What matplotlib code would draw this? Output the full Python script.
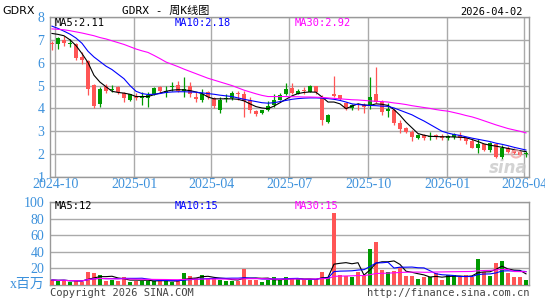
import matplotlib
matplotlib.use('Agg')
import matplotlib.pyplot as plt
from matplotlib.patches import Ellipse
import numpy as np
import pandas as pd

# weekly candles, GDRX (80 weeks ending 2026-04-03)
opens = [6.88, 6.81, 6.99, 6.83, 6.84, 6.23, 6.06, 5.04, 4.20, 4.96,
         4.81, 4.93, 4.67, 4.38, 4.56, 4.46, 4.46, 4.61, 4.93, 4.67,
         4.93, 5.03, 4.78, 4.96, 4.49, 4.38, 4.71, 4.46, 3.91, 4.42,
         4.46, 4.67, 4.64, 4.35, 3.88, 3.80, 3.91, 4.13, 4.38, 4.61,
         4.88, 4.64, 4.78, 4.74, 4.97, 4.52, 3.41, 4.61, 4.57, 4.23,
         4.03, 4.17, 4.13, 4.17, 4.61, 4.28, 3.88, 3.94, 3.36, 3.14,
         2.97, 2.72, 2.83, 2.75, 2.83, 2.78, 2.72, 2.75, 2.83, 2.72,
         2.58, 2.29, 2.43, 2.20, 2.46, 1.86, 2.25, 2.17, 2.10, 2.00]
closes = [6.81, 7.07, 6.88, 6.88, 6.20, 6.13, 4.86, 4.09, 4.85, 4.78,
          4.86, 4.71, 4.45, 4.61, 4.45, 4.49, 4.57, 4.88, 4.75, 4.78,
          5.00, 4.78, 4.86, 4.61, 4.41, 4.61, 4.52, 4.09, 4.38, 4.46,
          4.67, 4.64, 4.32, 3.94, 3.77, 3.91, 4.09, 4.35, 4.57, 4.86,
          4.67, 4.75, 4.75, 4.96, 4.71, 3.51, 3.72, 4.55, 4.42, 3.99,
          4.13, 4.13, 4.06, 4.49, 4.28, 3.84, 3.99, 3.36, 3.12, 2.97,
          2.75, 2.83, 2.72, 2.80, 2.75, 2.72, 2.78, 2.87, 2.72, 2.58,
          2.29, 2.46, 2.20, 2.49, 1.88, 2.28, 2.10, 2.06, 1.96, 2.07]
highs = [6.96, 7.12, 7.15, 7.03, 6.86, 6.45, 6.12, 5.07, 4.93, 5.07,
         5.03, 5.00, 4.71, 4.64, 4.67, 4.71, 4.71, 4.93, 5.00, 4.96,
         5.14, 5.22, 5.36, 5.14, 4.71, 4.86, 4.78, 4.52, 4.49, 4.64,
         4.78, 4.78, 4.78, 4.49, 3.94, 3.94, 4.32, 4.64, 4.67, 5.10,
         5.10, 4.86, 4.93, 5.04, 5.00, 4.57, 3.77, 5.41, 4.57, 4.28,
         4.20, 4.23, 4.23, 5.36, 5.80, 4.35, 4.23, 3.99, 3.48, 3.19,
         3.04, 2.90, 2.90, 2.97, 2.90, 2.90, 2.83, 2.93, 2.97, 2.75,
         2.68, 2.68, 2.46, 2.54, 2.49, 2.39, 2.35, 2.28, 2.17, 2.13]
lows = [6.55, 6.62, 6.74, 6.70, 6.12, 5.94, 4.57, 4.03, 4.06, 4.68,
        4.74, 4.64, 4.28, 4.32, 4.35, 4.13, 4.06, 4.57, 4.67, 4.52,
        4.78, 4.71, 4.49, 4.49, 4.30, 4.28, 4.42, 4.03, 3.80, 4.28,
        4.35, 4.35, 3.62, 3.80, 3.67, 3.74, 3.88, 4.06, 4.35, 4.57,
        4.64, 4.61, 4.64, 4.71, 4.61, 3.29, 3.36, 4.49, 4.35, 3.91,
        3.91, 3.94, 3.80, 3.99, 4.23, 3.72, 3.62, 3.26, 2.93, 2.93,
        2.58, 2.68, 2.61, 2.61, 2.68, 2.64, 2.64, 2.68, 2.64, 2.46,
        2.25, 2.07, 2.13, 2.10, 1.84, 1.78, 2.03, 2.00, 1.91, 1.88]
# volume in millions
volumes = [6.0, 5.2, 6.0, 3.6, 5.2, 3.6, 15.6, 14.4, 11.6, 5.2,
           6.0, 5.2, 9.6, 3.6, 5.2, 5.2, 5.2, 5.2, 5.2, 5.2,
           3.6, 5.2, 14.4, 10.8, 8.0, 11.6, 7.6, 8.0, 6.4, 5.2,
           5.2, 5.2, 19.2, 6.4, 6.0, 3.6, 6.4, 9.2, 6.4, 9.2,
           6.8, 6.8, 6.8, 6.8, 6.8, 16.0, 9.2, 86.7, 12.0, 10.8,
           9.2, 15.6, 12.0, 43.1, 51.5, 17.6, 15.6, 17.2, 22.0, 10.8,
           10.8, 7.2, 10.0, 9.2, 14.8, 6.0, 11.6, 11.6, 10.0, 11.6,
           10.0, 31.2, 16.0, 10.8, 26.8, 28.8, 14.0, 9.2, 9.2, 6.0]
# price moving averages as drawn (they reach back before the first candle)
ma5 = [7.28, 7.24, 7.18, 7.00, 6.75, 6.40, 6.01, 5.45, 5.15, 4.95,
       4.75, 4.70, 4.67, 4.62, 4.52, 4.52, 4.52, 4.60, 4.67, 4.75,
       4.80, 4.82, 4.81, 4.78, 4.72, 4.65, 4.50, 4.42, 4.42, 4.42,
       4.42, 4.40, 4.33, 4.20, 4.08, 4.02, 3.99, 4.10, 4.25, 4.40,
       4.55, 4.65, 4.70, 4.72, 4.71, 4.50, 4.28, 4.28, 4.20, 3.99,
       4.10, 4.20, 4.15, 4.13, 4.20, 4.18, 4.13, 3.95, 3.70, 3.40,
       3.15, 2.90, 2.83, 2.78, 2.77, 2.76, 2.76, 2.75, 2.74, 2.72,
       2.64, 2.55, 2.45, 2.39, 2.35, 2.30, 2.25, 2.20, 2.15, 2.11]
ma10 = [7.60, 7.50, 7.38, 7.25, 7.08, 6.85, 6.50, 6.25, 6.05, 5.85,
        5.70, 5.50, 5.30, 5.00, 4.75, 4.65, 4.61, 4.62, 4.65, 4.70,
        4.72, 4.73, 4.73, 4.72, 4.71, 4.68, 4.65, 4.62, 4.58, 4.55,
        4.52, 4.46, 4.40, 4.35, 4.30, 4.25, 4.23, 4.25, 4.30, 4.35,
        4.40, 4.43, 4.45, 4.46, 4.46, 4.45, 4.43, 4.40, 4.35, 4.28,
        4.20, 4.17, 4.15, 4.13, 4.12, 4.10, 4.09, 4.02, 3.92, 3.82,
        3.72, 3.58, 3.45, 3.30, 3.15, 3.00, 2.92, 2.86, 2.82, 2.76,
        2.70, 2.65, 2.60, 2.55, 2.48, 2.43, 2.37, 2.30, 2.24, 2.18]
ma30 = [7.48, 7.46, 7.44, 7.40, 7.35, 7.30, 7.24, 7.18, 7.10, 7.04,
        6.96, 6.88, 6.80, 6.70, 6.60, 6.52, 6.45, 6.32, 6.18, 6.03,
        5.93, 5.83, 5.72, 5.62, 5.52, 5.42, 5.32, 5.24, 5.16, 5.08,
        5.00, 4.90, 4.80, 4.72, 4.64, 4.57, 4.52, 4.52, 4.52, 4.52,
        4.51, 4.51, 4.50, 4.50, 4.49, 4.48, 4.46, 4.44, 4.42, 4.40,
        4.38, 4.37, 4.35, 4.33, 4.31, 4.30, 4.28, 4.24, 4.21, 4.17,
        4.12, 4.08, 4.04, 4.00, 3.95, 3.91, 3.88, 3.82, 3.76, 3.69,
        3.63, 3.55, 3.46, 3.37, 3.28, 3.20, 3.12, 3.06, 3.00, 2.93]

tick_dates = ['2024-10-01', '2025-01-01', '2025-04-01', '2025-07-01',
              '2025-10-01', '2026-01-01', '2026-04-01']
tick_labels = ['2024-10', '2025-01', '2025-04', '2025-07',
               '2025-10', '2026-01', '2026-04']

weeks = pd.date_range(end='2026-04-03', periods=len(closes), freq='W-FRI')
x = np.arange(len(closes))
tick_pos = [(pd.Timestamp(d) - weeks[0]).days / 7 for d in tick_dates]

o = np.array(opens); c = np.array(closes)
up = c >= o
RED, GREEN = '#ff5555', '#009900'
cols = np.where(up, GREEN, RED)
BLUE_TXT = '#3c91dc'
GRID = '#aaaaaa'

vol = pd.Series(volumes)
vma5 = vol.rolling(5, min_periods=1).mean()
vma10 = vol.rolling(10, min_periods=1).mean()
vma30 = vol.rolling(30, min_periods=1).mean()

W, H = 545, 300
fig = plt.figure(figsize=(W / 100, H / 100), dpi=100)

def box(l, t, r, b):
    return [l / W, 1 - b / H, (r - l) / W, (b - t) / H]

def ftext(px, py, s, **kw):
    fig.text(px / W, 1 - py / H, s, **kw)

ax = fig.add_axes(box(50, 17, 529, 177))
axv = fig.add_axes(box(50, 202, 529, 285))

########### candles ##################
ax.vlines(x, lows, highs, colors=cols, lw=0.9, zorder=3)
ax.bar(x, np.maximum(np.abs(c - o), 0.04), bottom=np.minimum(o, c),
       width=0.72, color=cols, zorder=4)
ax.plot(x, ma5, color='black', lw=0.8, zorder=5)
ax.plot(x, ma10, color='#0000ff', lw=0.8, zorder=5)
ax.plot(x, ma30, color='#ff00ff', lw=0.8, zorder=5)

ax.set_xlim(-0.33, 79.5)
ax.set_ylim(1, 8)
ax.set_yticks(range(1, 9))
ax.set_xticks(tick_pos)
ax.set_xticklabels(tick_labels)
ax.grid(True, color=GRID, lw=1.0, zorder=0)

########### volume ##################
axv.bar(x, volumes, width=0.8, color=cols, zorder=3)
axv.plot(x, vma5, color='black', lw=0.8, zorder=4)
axv.plot(x, vma10, color='#0000ff', lw=0.8, zorder=4)
axv.plot(x, vma30, color='#ff00ff', lw=0.8, zorder=4)
axv.set_xlim(-0.33, 79.5)
axv.set_ylim(0, 100)
axv.set_yticks([20, 40, 60, 80, 100])
axv.set_xticks([])
axv.grid(True, axis='y', color=GRID, lw=1.0, zorder=0)

for a in (ax, axv):
    a.set_axisbelow(True)
    for s in a.spines.values():
        s.set_color('#999999')
        s.set_linewidth(1.0)
    a.tick_params(length=0, colors=BLUE_TXT, labelsize=10, pad=4)
    for lab in a.get_xticklabels() + a.get_yticklabels():
        lab.set_family('Liberation Serif')
ax.tick_params(axis='x', pad=1)

########### texts ##################
mono = ['DejaVu Sans Mono', 'Noto Sans CJK SC']
ftext(2, 11, 'GDRX', fontsize=8, family='DejaVu Sans', va='center')
ftext(166, 11, 'GDRX - 周K线图', fontsize=8, family=mono, ha='center', va='center')
ftext(523, 12, '2026-04-02', fontsize=7.5, family=mono, ha='right', va='center')

ftext(55, 23, 'MA5:2.11', fontsize=7.5, family=mono, va='center', color='black')
ftext(175, 23, 'MA10:2.18', fontsize=7.5, family=mono, va='center', color='#0000ff')
ftext(295, 23, 'MA30:2.92', fontsize=7.5, family=mono, va='center', color='#ff00ff')

ftext(55, 206, 'MA5:12', fontsize=7.5, family=mono, va='center', color='black')
ftext(175, 206, 'MA10:15', fontsize=7.5, family=mono, va='center', color='#0000ff')
ftext(295, 206, 'MA30:15', fontsize=7.5, family=mono, va='center', color='#ff00ff')

ftext(45, 284, 'x百万', fontsize=10, family=['Liberation Serif', 'Noto Sans CJK SC'],
      ha='right', va='center', color=BLUE_TXT)
ftext(50, 293, 'Copyright 2026 SINA.COM', fontsize=7.5, family=mono,
      va='center', color='#444444')
ftext(529, 293, 'http://finance.sina.com.cn', fontsize=7.5, family=mono,
      ha='right', va='center', color='#444444')

# faint sina watermark: logo ring + word
ftext(508, 168, 'sina', fontsize=12, family='DejaVu Sans', style='italic',
      weight='bold', ha='center', va='center', color='#c8c8c8', alpha=0.8)
fig.patches.append(Ellipse((516 / W, 1 - 154 / H), 9 / W, 7 / H,
                           transform=fig.transFigure, fill=False,
                           ec='#f0a8a8', lw=1.5, alpha=0.8))

fig.savefig('out.png', dpi=100)
